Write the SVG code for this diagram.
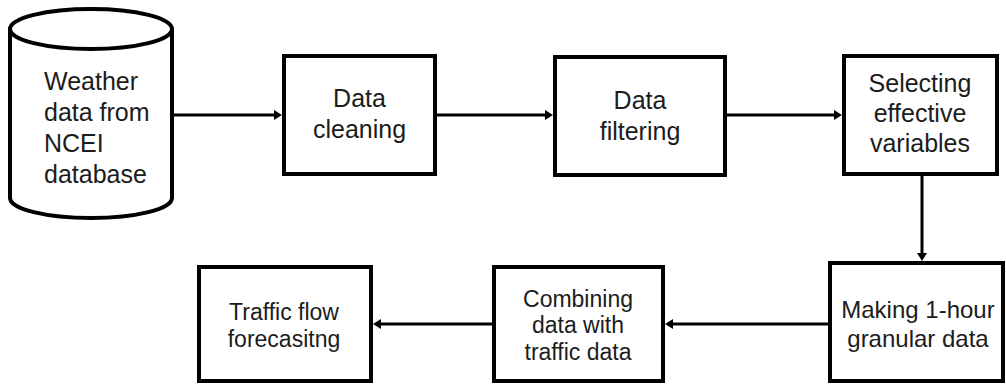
<svg xmlns="http://www.w3.org/2000/svg" width="1006" height="385" viewBox="0 0 1006 385">
  <style>
    .box { fill: #ffffff; stroke: #000000; stroke-width: 4; }
    .lbl { font-family: "Liberation Sans", Arial, sans-serif; fill: #1c1c1c; text-anchor: middle; }
    .t25 { font-size: 25px; }
    .t24 { font-size: 24px; }
    .t23 { font-size: 23px; }
    .edge { fill: none; stroke: #000000; stroke-width: 3; }
  </style>
  <defs>
    <marker id="arrow" markerUnits="userSpaceOnUse" viewBox="0 0 8 10" refX="2" refY="5" markerWidth="8" markerHeight="10" orient="auto">
      <path d="M0,0 L8,5 L0,10 z" fill="#000000"/>
    </marker>
  </defs>
  <rect width="1006" height="385" fill="#ffffff"/>

  <!-- connectors -->
  <g id="connectors">
    <path class="edge" d="M173,115 H276" marker-end="url(#arrow)"/>
    <path class="edge" d="M437,115 H547" marker-end="url(#arrow)"/>
    <path class="edge" d="M727,115 H836" marker-end="url(#arrow)"/>
    <path class="edge" d="M922,176 V255" marker-end="url(#arrow)"/>
    <path class="edge" d="M828,324 H671" marker-end="url(#arrow)"/>
    <path class="edge" d="M492,324 H379" marker-end="url(#arrow)"/>
  </g>

  <!-- source database -->
  <g id="weather-db">
    <path class="box" d="M10,29 V198 A81,20 0 0 0 172,198 V29"/>
    <ellipse class="box" cx="91" cy="29" rx="81" ry="20"/>
    <text class="lbl t25" style="text-anchor:start" x="44" y="90">Weather</text>
    <text class="lbl t25" style="text-anchor:start" x="44" y="121">data from</text>
    <text class="lbl t25" style="text-anchor:start" x="44" y="152">NCEI</text>
    <text class="lbl t25" style="text-anchor:start" x="44" y="183">database</text>
  </g>

  <g id="data-cleaning">
    <rect class="box" x="284" y="56" width="151" height="118"/>
    <text class="lbl t25" x="359.5" y="107">Data</text>
    <text class="lbl t25" x="359.5" y="138">cleaning</text>
  </g>

  <g id="data-filtering">
    <rect class="box" x="555" y="57" width="170" height="118"/>
    <text class="lbl t25" x="640" y="109">Data</text>
    <text class="lbl t25" x="640" y="140">filtering</text>
  </g>

  <g id="selecting-variables">
    <rect class="box" x="844" y="56" width="153" height="118"/>
    <text class="lbl t25" x="920" y="92">Selecting</text>
    <text class="lbl t25" x="920" y="122">effective</text>
    <text class="lbl t25" x="920" y="152">variables</text>
  </g>

  <g id="hourly-data">
    <rect class="box" x="830" y="263" width="173" height="118"/>
    <text class="lbl t24" x="918" y="318">Making 1-hour</text>
    <text class="lbl t24" x="918" y="347">granular data</text>
  </g>

  <g id="combining-data">
    <rect class="box" x="494" y="267" width="169" height="114"/>
    <text class="lbl t23" x="578" y="307">Combining</text>
    <text class="lbl t23" x="578" y="333">data with</text>
    <text class="lbl t23" x="578" y="360">traffic data</text>
  </g>

  <g id="forecasting">
    <rect class="box" x="199" y="267" width="172" height="114"/>
    <text class="lbl t23" x="284" y="320">Traffic flow</text>
    <text class="lbl t23" x="284" y="347">forecasitng</text>
  </g>
</svg>
